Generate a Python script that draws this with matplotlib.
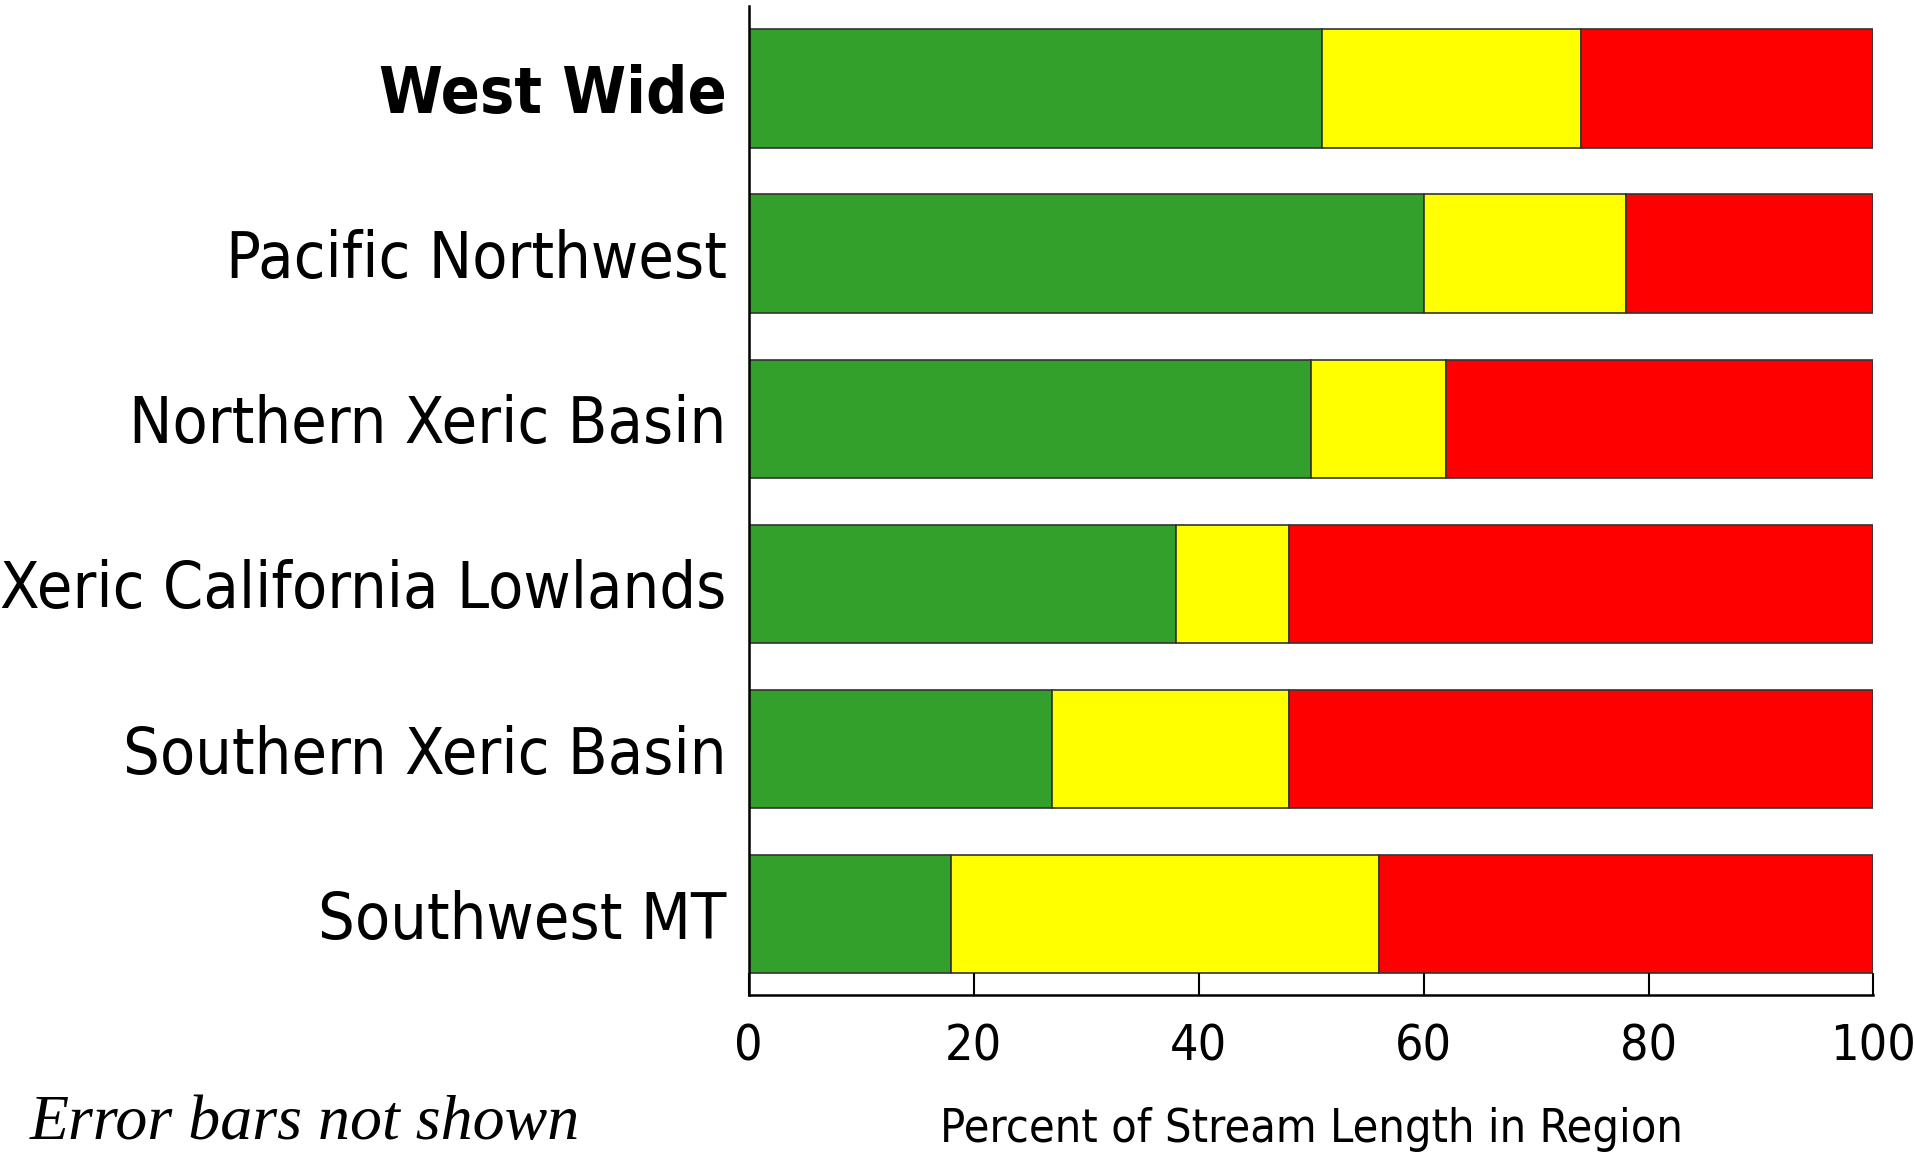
import matplotlib
matplotlib.use('Agg')
import matplotlib.pyplot as plt
import numpy as np

# 各区域的河流长度百分比
regions = ['West Wide', 'Pacific Northwest', 'Northern Xeric Basin',
           'Xeric California Lowlands', 'Southern Xeric Basin', 'Southwest MT']
good = [51, 60, 50, 38, 27, 18]
fair = [23, 18, 12, 10, 21, 38]
poor = [26, 22, 38, 52, 52, 44]
xticks = [0, 20, 40, 60, 80, 100]

label_font = ['DejaVu Sans']

fig = plt.figure(figsize=(19.15, 11.69), dpi=100)
ax = fig.add_axes([0.391, 0.1488, 0.9783 - 0.391, 0.9949 - 0.1488])

y = np.arange(len(regions))
h = 0.717
left = np.zeros(len(regions))
for vals, col in [(good, '#33a02c'), (fair, '#ffff00'), (poor, '#ff0000')]:
    ax.barh(y, vals, height=h, left=left, color=col,
            edgecolor='#333333', linewidth=1.2)
    left = left + np.array(vals)

ax.set_xlim(0, 100)
ax.set_ylim(len(regions) - 0.51, -0.5)

ax.set_yticks(y)
ax.set_yticklabels(regions, family=label_font, stretch='condensed', fontsize=60)
ax.get_yticklabels()[0].set_fontweight('bold')
ax.tick_params(axis='y', length=0, pad=16)

ax.set_xticks(xticks)
ax.set_xticklabels([str(t) for t in xticks], family=label_font,
                   stretch='condensed', fontsize=36)
ax.tick_params(axis='x', direction='in', length=16, width=1.5, pad=20)

for s in ['top', 'right']:
    ax.spines[s].set_visible(False)
for s in ['left', 'bottom']:
    ax.spines[s].set_linewidth(1.8)

ax.set_xlabel('Percent of Stream Length in Region', family=label_font,
              stretch='condensed', fontsize=42, labelpad=26)

fig.text(0.0157, 0.026, 'Error bars not shown', family='Liberation Serif',
         style='italic', fontsize=46, ha='left', va='baseline')

# 按参考图的宽度缩放字号
fig.canvas.draw()
r = fig.canvas.get_renderer()
lab = ax.get_yticklabels()[3]
k = 725 / lab.get_window_extent(r).width
for t in ax.get_yticklabels():
    t.set_fontsize(60 * k)
xl = ax.xaxis.label
xl.set_fontsize(42 * 742 / xl.get_window_extent(r).width)

fig.savefig('out.png', dpi=100)
